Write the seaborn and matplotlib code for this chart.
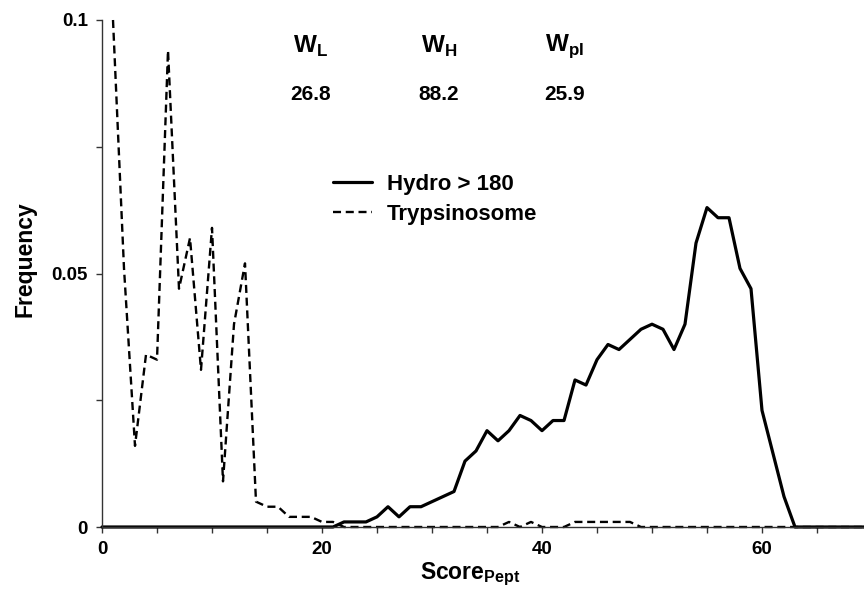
import matplotlib
matplotlib.use("Agg")
import matplotlib.pyplot as plt
import seaborn as sns
import pandas as pd
from matplotlib.ticker import FixedLocator, MultipleLocator

# ---- data ----
score_hydro = list(range(0, 71))
freq_hydro = [0, 0, 0, 0, 0, 0, 0, 0, 0, 0,
              0, 0, 0, 0, 0, 0, 0, 0, 0, 0,
              0, 0, 0.001, 0.001, 0.001, 0.002, 0.004, 0.002, 0.004, 0.004,
              0.005, 0.006, 0.007, 0.013, 0.015, 0.019, 0.017, 0.019, 0.022, 0.021,
              0.019, 0.021, 0.021, 0.029, 0.028, 0.033, 0.036, 0.035, 0.037, 0.039,
              0.040, 0.039, 0.035, 0.040, 0.056, 0.063, 0.061, 0.061, 0.051, 0.047,
              0.023, 0.0145, 0.006, 0, 0, 0, 0, 0, 0, 0,
              0]

score_tryp = list(range(1, 71))
freq_tryp = [0.100, 0.051, 0.016, 0.034, 0.033, 0.094, 0.047, 0.057, 0.031, 0.059,
             0.009, 0.040, 0.052, 0.005, 0.004, 0.004, 0.002, 0.002, 0.002, 0.001,
             0.001, 0, 0, 0, 0, 0, 0, 0, 0, 0,
             0, 0, 0, 0, 0, 0, 0.001, 0, 0.001, 0,
             0, 0, 0.001, 0.001, 0.001, 0.001, 0.001, 0.001, 0, 0,
             0, 0, 0, 0, 0, 0, 0, 0, 0, 0,
             0, 0, 0, 0, 0, 0, 0, 0, 0, 0]

series_labels = ["Hydro > 180", "Trypsinosome"]
w_names = [r"$\mathbf{W}_{\mathbf{L}}$", r"$\mathbf{W}_{\mathbf{H}}$", r"$\mathbf{W}_{\mathbf{pI}}$"]
w_values = ["26.8", "88.2", "25.9"]
x_ticks = [0, 20, 40, 60]
y_ticks = [0, 0.05, 0.1]
y_ticklabels = ["0", "0.05", "0.1"]

# ---- style ----
sns.set_style("ticks")
plt.rcParams["font.family"] = ["Liberation Sans", "DejaVu Sans"]
plt.rcParams["mathtext.fontset"] = "custom"
plt.rcParams["mathtext.bf"] = "Liberation Sans:bold"
plt.rcParams["mathtext.rm"] = "Liberation Sans"
plt.rcParams["text.color"] = "black"
plt.rcParams["axes.labelcolor"] = "black"
plt.rcParams["xtick.color"] = "black"
plt.rcParams["ytick.color"] = "black"

df_h = pd.DataFrame({"score": score_hydro, "freq": freq_hydro})
df_t = pd.DataFrame({"score": score_tryp, "freq": freq_tryp})

fig = plt.figure(figsize=(8.64, 5.95), dpi=100)
ax = fig.add_axes([102 / 864, 68 / 595, 762 / 864, 507 / 595])

sns.lineplot(data=df_h, x="score", y="freq", ax=ax, color="black",
             linewidth=2.3, label=series_labels[0], clip_on=False)
sns.lineplot(data=df_t, x="score", y="freq", ax=ax, color="black",
             linewidth=1.7, label=series_labels[1], clip_on=False)
ax.lines[1].set_dashes((3.4, 2.0))

ax.set_xlim(0, 762 / 11)
ax.set_ylim(0, 0.1)

ax.xaxis.set_major_locator(FixedLocator(x_ticks))
ax.xaxis.set_minor_locator(MultipleLocator(5))
ax.yaxis.set_major_locator(FixedLocator(y_ticks))
ax.yaxis.set_minor_locator(MultipleLocator(0.025))
ax.set_yticklabels(y_ticklabels)
ax.tick_params(axis="both", which="both", direction="out", length=4, width=1,
               color="#333333", labelcolor="black", labelsize=13.5, pad=6)
for lab in ax.get_xticklabels() + ax.get_yticklabels():
    lab.set_fontweight("bold")

sns.despine(ax=ax)
for s in ("left", "bottom"):
    ax.spines[s].set_color("#333333")
    ax.spines[s].set_linewidth(1)

ax.set_xlabel(r"$\mathbf{Score}_{\mathbf{Pept}}$", fontsize=16.5)
ax.xaxis.set_label_coords((470 - 102) / 762, -(561 - 527) / 507)
ax.set_ylabel("Frequency", fontsize=16.5, fontweight="bold")
ax.yaxis.set_label_coords(-(102 - 37) / 762, (527 - 259) / 507)

leg = ax.legend(loc="upper left", bbox_to_anchor=((313 - 102) / 762, (527 - 154) / 507),
                frameon=False, handlelength=1.75, handletextpad=0.68, labelspacing=0.4,
                prop={"weight": "bold", "size": 16})

# W annotations
w_x = [311, 439, 565]
for xp, nm, val in zip(w_x, w_names, w_values):
    fig.text(xp / 864, 1 - 46 / 595, nm, ha="center", va="center", fontsize=17.5)
    fig.text(xp / 864, 1 - 95 / 595, val, ha="center", va="center", fontsize=15,
             fontweight="bold")

fig.savefig("out.png", dpi=100)
